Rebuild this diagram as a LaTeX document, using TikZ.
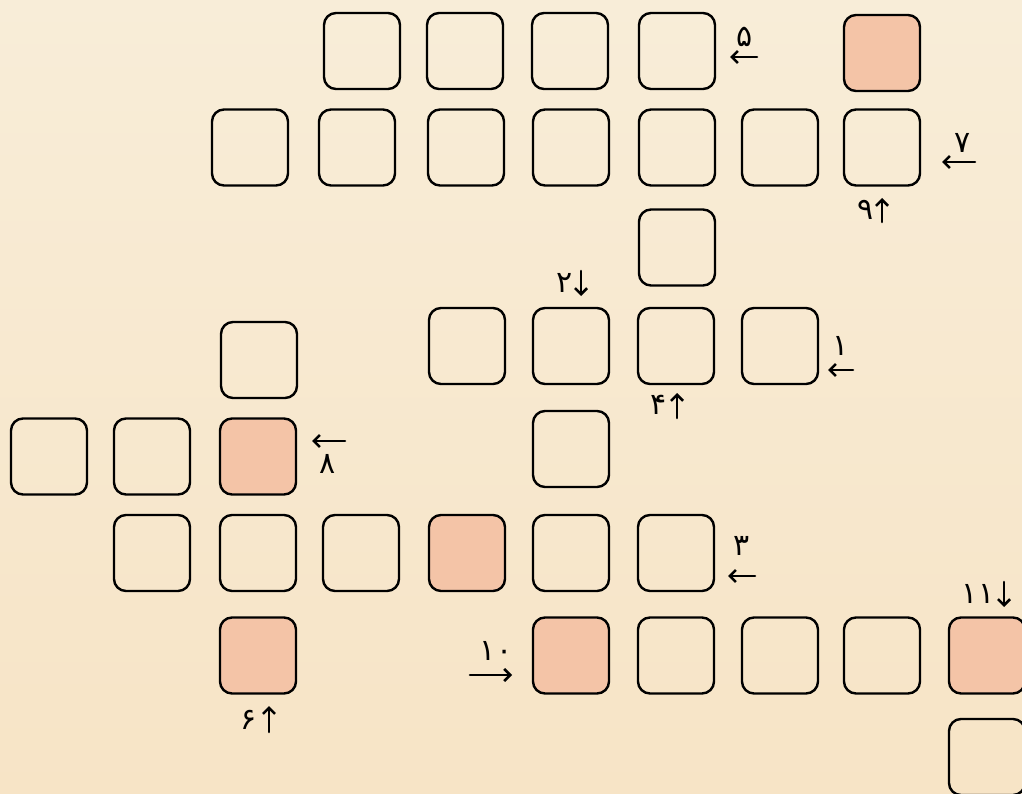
\documentclass[tikz,border=0pt]{standalone}
\usepackage{fontspec}
\newfontfamily\fafont[Script=Arabic]{DejaVu Sans}
\usetikzlibrary{arrows.meta}
\definecolor{bgtop}{HTML}{F8EDD8}
\definecolor{bgbot}{HTML}{F7E4C6}
\definecolor{salmon}{HTML}{F4C4A7}
\begin{document}
\begin{tikzpicture}[x=1pt,y=-1pt,
  cell/.style={draw=black,line width=2.4pt,rounded corners=12pt,minimum size=76pt,inner sep=0pt},
  hot/.style={cell,fill=salmon},
  num/.style={font=\fafont\fontsize{30}{30}\selectfont,inner sep=0pt},
  arr/.style={line width=2.6pt,-{Straight Barb[length=6pt,width=12pt,line width=2.6pt]},line cap=round}]
\shade[top color=bgtop,bottom color=bgbot] (0,0) rectangle (1022,794);
\useasboundingbox (0,0) rectangle (1022,794);
% row 1
\node[cell] (a1) at (362,51) {};
\node[cell] (a2) at (465,51) {};
\node[cell] (a3) at (570,51) {};
\node[cell] (a4) at (677,51) {};
\node[hot]  (a5) at (882,53) {};
% row 2
\node[cell] (b1) at (250,147.5) {};
\node[cell] (b2) at (357,147.5) {};
\node[cell] (b3) at (466,147.5) {};
\node[cell] (b4) at (571,147.5) {};
\node[cell] (b5) at (677,147.5) {};
\node[cell] (b6) at (780,147.5) {};
\node[cell] (b7) at (882,147.5) {};
\node[cell] (c1) at (677,247.5) {};
% row 3
\node[cell] (d1) at (467,346) {};
\node[cell] (d2) at (571,346) {};
\node[cell] (d3) at (676,346) {};
\node[cell] (d4) at (780,346) {};
\node[cell] (e1) at (259,360) {};
% row 4
\node[cell] (f1) at (49,456.5) {};
\node[cell] (f2) at (152,456.5) {};
\node[hot]  (f3) at (258,456.5) {};
\node[cell] (g1) at (571,449) {};
% row 5
\node[cell] (h1) at (152,553) {};
\node[cell] (h2) at (258,553) {};
\node[cell] (h3) at (361,553) {};
\node[hot]  (h4) at (467,553) {};
\node[cell] (h5) at (571,553) {};
\node[cell] (h6) at (676,553) {};
% row 6
\node[hot]  (i1) at (258,655.5) {};
\node[hot]  (j1) at (571,655.5) {};
\node[cell] (j2) at (676,655.5) {};
\node[cell] (j3) at (780,655.5) {};
\node[cell] (j4) at (882,655.5) {};
\node[hot]  (j5) at (987,655.5) {};
\node[cell] (k1) at (987,757) {};
% labels
\node[num] (n5) at (745,37) {۵};
\coordinate (p5a) at (757,57); \coordinate (p5b) at (730,57);
\draw[arr] (p5a) -- (p5b);
\node[num] (n7) at (963,143) {۷};
\coordinate (p7a) at (975,162); \coordinate (p7b) at (942,162);
\draw[arr] (p7a) -- (p7b);
\node[num] (n9) at (866,210) {۹};
\coordinate (p9a) at (882,222); \coordinate (p9b) at (882,198);
\draw[arr] (p9a) -- (p9b);
\node[num] (n2) at (565,283) {۲};
\coordinate (p2a) at (581,271); \coordinate (p2b) at (581,296);
\draw[arr] (p2a) -- (p2b);
\node[num] (n1) at (841,346) {۱};
\coordinate (p1a) at (853,370); \coordinate (p1b) at (828,370);
\draw[arr] (p1a) -- (p1b);
\node[num] (n4) at (659,405) {۴};
\coordinate (p4a) at (677,418); \coordinate (p4b) at (677,393);
\draw[arr] (p4a) -- (p4b);
\node[num] (n8) at (328,464) {۸};
\coordinate (p8a) at (345,441); \coordinate (p8b) at (312,441);
\draw[arr] (p8a) -- (p8b);
\node[num] (n3) at (742,546) {۳};
\coordinate (p3a) at (755,576); \coordinate (p3b) at (728,576);
\draw[arr] (p3a) -- (p3b);
\node[num] (n10) at (496,651) {۱۰};
\coordinate (p10a) at (470,675); \coordinate (p10b) at (512,675);
\draw[arr] (p10a) -- (p10b);
\node[num] (n11) at (978,594) {۱۱};
\coordinate (p11a) at (1004,582); \coordinate (p11b) at (1004,607);
\draw[arr] (p11a) -- (p11b);
\node[num] (n6) at (249,720) {۶};
\coordinate (p6a) at (269,732); \coordinate (p6b) at (269,706);
\draw[arr] (p6a) -- (p6b);
\end{tikzpicture}
\end{document}
